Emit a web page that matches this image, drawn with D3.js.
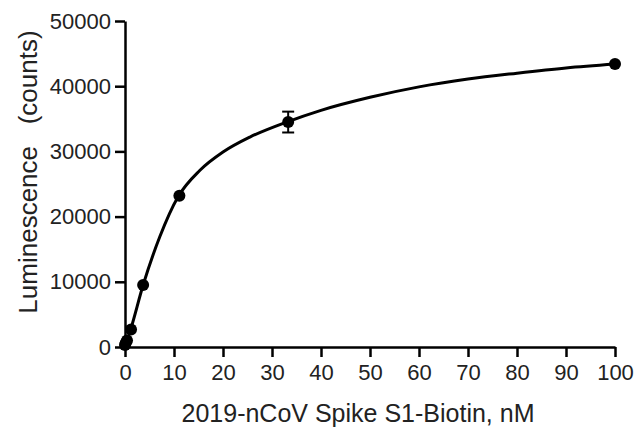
<!DOCTYPE html>
<html>
<head>
<meta charset="utf-8">
<script src="https://cdn.jsdelivr.net/npm/d3@7"></script>
<style>
	body { margin: 0; background: #fff; }
	svg text { font-family: "Liberation Sans", Arial, sans-serif; fill: #222; }
</style>
</head>
<body>
<script>
const w = 638;
const h = 435;

// measured points (nM, counts) and SEM (only the 33 nM bar shows past the dot)
const conc = [0, 0.137, 0.41, 1.23, 3.7, 11.1, 33.3, 100];
const counts = [300, 600, 1000, 2700, 9500, 23200, 34500, 43400];
const sem = [0, 0, 0, 0, 0, 0, 1600, 0];

// fitted curve
const fitX = [0, 1.2, 3.7, 7.1, 10.8, 15.3, 20, 25.5, 33, 40, 50, 60, 70, 80, 90, 100];
const fitY = [0, 2800, 9500, 16900, 23000, 27100, 29900, 32200, 34500, 36300, 38300, 39900, 41100, 42000, 42800, 43400];

const xTicks = d3.range(0, 101, 10);
const yTicks = d3.range(0, 50001, 10000);

const svg = d3.select("body")
	.append("svg")
	.attr("width", w)
	.attr("height", h);

// * SCALES
const xScale = d3.scaleLinear().domain([0, 100]).range([125, 615]);
const yScale = d3.scaleLinear().domain([0, 50000]).range([347, 21]);

// * AXES
const xAxis = d3.axisBottom(xScale)
	.tickValues(xTicks)
	.tickFormat(d3.format("d"))
	.tickSize(10)
	.tickPadding(7)
	.tickSizeOuter(0);
const gx = svg.append("g")
	.attr("transform", "translate(0," + yScale(0) + ")")
	.call(xAxis);

const yAxis = d3.axisLeft(yScale)
	.tickValues(yTicks)
	.tickFormat(d3.format("d"))
	.tickSize(10)
	.tickPadding(4)
	.tickSizeOuter(0);
const gy = svg.append("g")
	.attr("transform", "translate(" + xScale(0) + ",0)")
	.call(yAxis);

[gx, gy].forEach((g) => {
	g.select(".domain").attr("stroke", "#000").attr("stroke-width", 2.5);
	g.selectAll(".tick line").attr("stroke", "#000").attr("stroke-width", 2.5);
	g.selectAll(".tick text")
		.attr("font-size", 22)
		.attr("font-family", "Liberation Sans, Arial, sans-serif")
		.attr("fill", "#222");
});

// * TITLES
svg.append("text")
	.attr("x", 358)
	.attr("y", 422)
	.attr("text-anchor", "middle")
	.attr("font-size", 25)
	.text("2019-nCoV Spike S1-Biotin, nM");

svg.append("text")
	.attr("transform", "translate(37,172) rotate(-90)")
	.attr("text-anchor", "middle")
	.attr("font-size", 26)
	.attr("xml:space", "preserve")
	.text("Luminescence   (counts)");

// * FIT CURVE
const fit = fitX.map((x, i) => [x, fitY[i]]);
svg.append("path")
	.datum(fit)
	.attr("fill", "none")
	.attr("stroke", "#000")
	.attr("stroke-width", 3)
	.attr("d", d3.line()
		.x((d) => xScale(d[0]))
		.y((d) => yScale(d[1]))
		.curve(d3.curveMonotoneX));

// * POINTS + ERROR BARS
const pts = conc.map((c, i) => ({ c: c, v: counts[i], e: sem[i] }));
const eb = svg.selectAll(".err")
	.data(pts.filter((d) => d.e > 0))
	.enter()
	.append("g")
	.attr("class", "err");
eb.append("line")
	.attr("x1", (d) => xScale(d.c))
	.attr("x2", (d) => xScale(d.c))
	.attr("y1", (d) => yScale(d.v - d.e))
	.attr("y2", (d) => yScale(d.v + d.e))
	.attr("stroke", "#000")
	.attr("stroke-width", 2);
eb.selectAll(".cap")
	.data((d) => [d.v - d.e, d.v + d.e].map((y) => ({ c: d.c, y: y })))
	.enter()
	.append("line")
	.attr("x1", (d) => xScale(d.c) - 6)
	.attr("x2", (d) => xScale(d.c) + 6)
	.attr("y1", (d) => yScale(d.y))
	.attr("y2", (d) => yScale(d.y))
	.attr("stroke", "#000")
	.attr("stroke-width", 2);

svg.selectAll(".pt")
	.data(pts)
	.enter()
	.append("circle")
	.attr("class", "pt")
	.attr("cx", (d) => xScale(d.c))
	.attr("cy", (d) => yScale(d.v))
	.attr("r", 6)
	.attr("fill", "#000");
</script>
</body>
</html>
